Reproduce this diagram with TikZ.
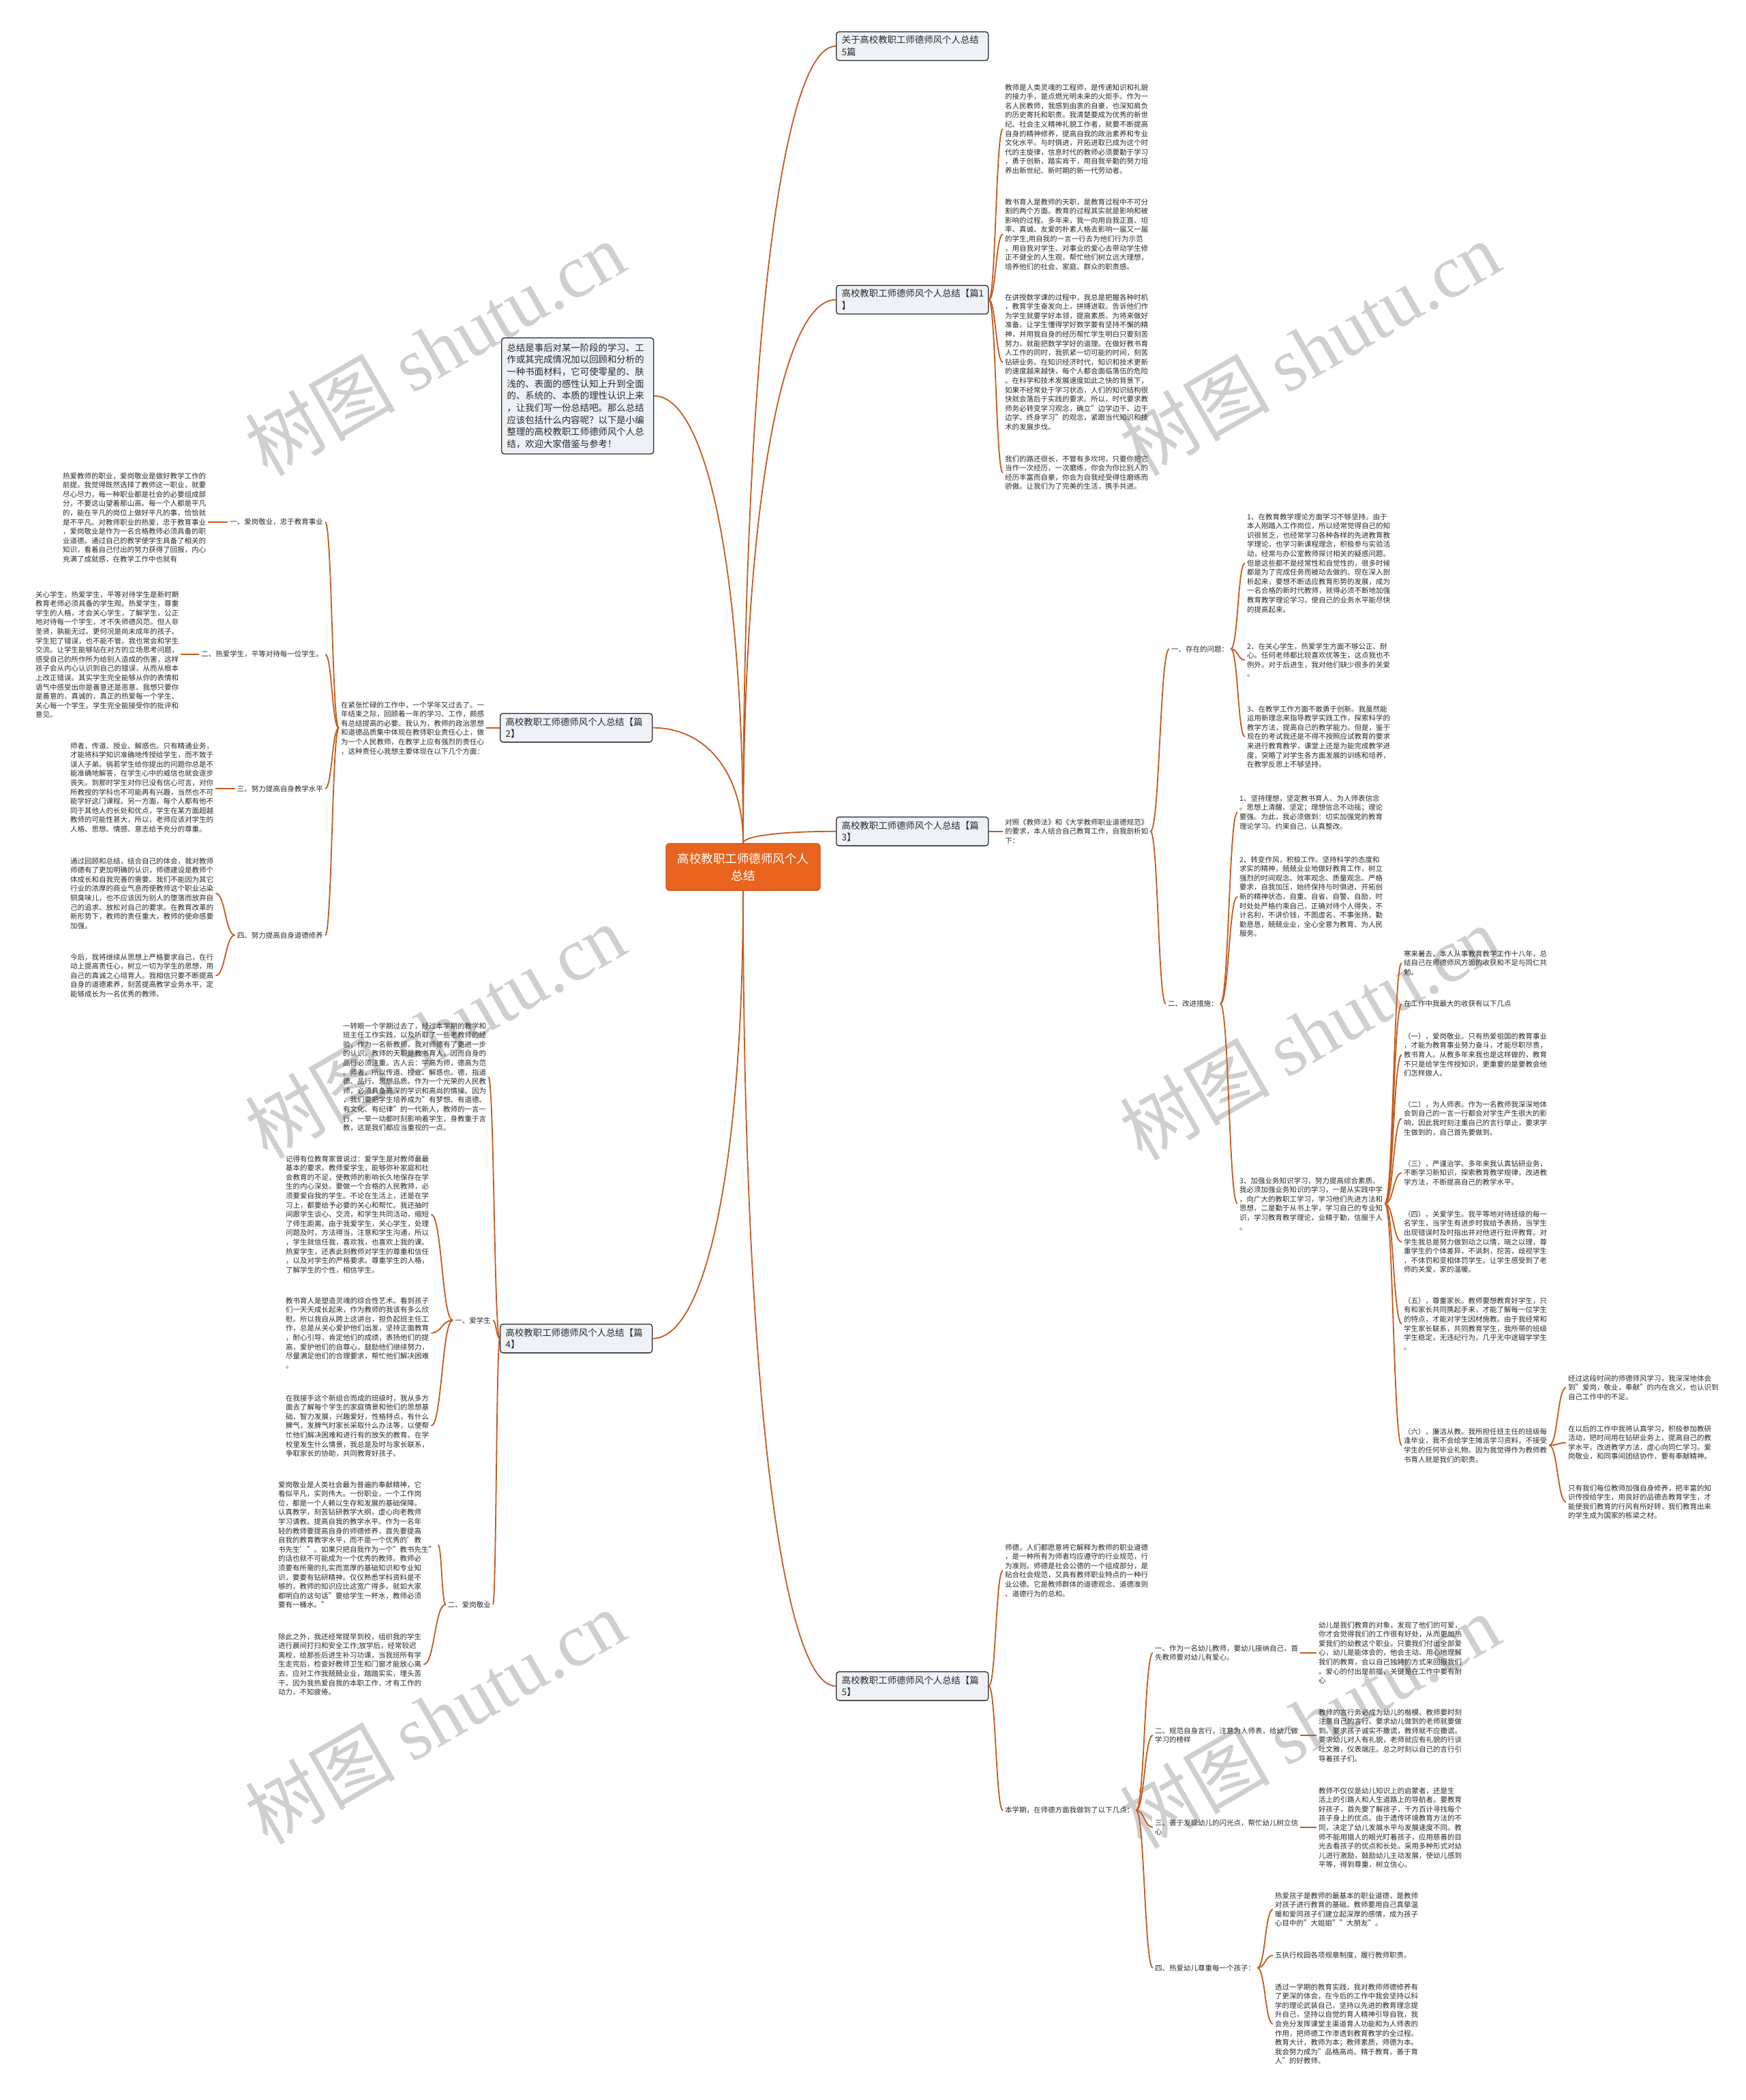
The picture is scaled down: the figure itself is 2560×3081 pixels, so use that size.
\documentclass[tikz,border=0pt]{standalone}
\usepackage{fontspec}
\setmainfont{Noto Sans CJK SC}
\newfontfamily\wmserif{Liberation Serif}
\usetikzlibrary{calc}
\definecolor{lineC}{HTML}{C55A1C}
\definecolor{cenF}{HTML}{E8641E}
\definecolor{cenD}{HTML}{C4521A}
\definecolor{boxF}{HTML}{EEF1F6}
\definecolor{boxD}{HTML}{2E2E2E}
\definecolor{textC}{HTML}{2A2A2A}
\newcommand{\sconn}[2]{\draw[conn] (#1) .. controls ($(#1)!0.5!(#1-|#2)$) and ($(#2)!0.5!(#2-|#1)$) .. (#2);}
\newcommand{\cconn}[2]{\draw[conn] (#1) .. controls ($(#1)!0.6!(#1|-#2)$) and ($(#2)!0.6!(#2-|#1)$) .. (#2);}
\tikzset{
  conn/.style={draw=lineC, line width=1.8pt},
  txt/.style={anchor=north west, align=left, inner xsep=3pt, inner ysep=1pt, font=\fontsize{10.5}{13.6}\selectfont, text=textC},
  lbl/.style={align=left, inner xsep=3pt, inner ysep=1pt, font=\fontsize{10.5}{13.6}\selectfont, text=textC},
  topic/.style={anchor=north west, draw=boxD, fill=boxF, line width=1.3pt, rounded corners=4pt, align=left, text width=207pt, inner xsep=8pt, inner ysep=6pt, font=\fontsize{13.4}{17.7}\selectfont, text=textC},
  cen/.style={fill=cenF, draw=cenD, line width=1.3pt, rounded corners=5pt, text=white, align=center, font=\fontsize{17.5}{25}\selectfont, minimum width=226pt, minimum height=69pt, inner sep=4pt},
  wm/.style={rotate=30, text=black!19, font=\fontsize{110}{110}\selectfont, inner sep=0pt}
}
\begin{document}
\begin{tikzpicture}[x=1pt,y=-1pt]
\fill[white] (0,0) rectangle (2560,3081);
\useasboundingbox (0,0) rectangle (2560,3081);
% watermarks
\node[wm] (w1) at (638,511) {树图 {\wmserif shutu.cn}};
\node[wm] (w2) at (1921,511) {树图 {\wmserif shutu.cn}};
\node[wm] (w3) at (638,1513) {树图 {\wmserif shutu.cn}};
\node[wm] (w4) at (1921,1515) {树图 {\wmserif shutu.cn}};
\node[wm] (w5) at (638,2519) {树图 {\wmserif shutu.cn}};
\node[wm] (w6) at (1921,2525) {树图 {\wmserif shutu.cn}};

% central and level-1
\node[cen] (cen) at (1090,1272) {高校教职工师德师风个人\\总结};
\node[topic] (T) at (1226,46) {关于高校教职工师德师风个人总结\\5篇};
\node[topic] (P1) at (1226,418) {高校教职工师德师风个人总结【篇1\\】};
\node[topic, inner ysep=8pt] (intro) at (735,495) {总结是事后对某一阶段的学习、工\\作或其完成情况加以回顾和分析的\\一种书面材料，它可使零星的、肤\\浅的、表面的感性认知上升到全面\\的、系统的、本质的理性认识上来\\，让我们写一份总结吧。那么总结\\应该包括什么内容呢？以下是小编\\整理的高校教职工师德师风个人总\\结，欢迎大家借鉴与参考！};
\node[topic] (P2) at (733,1046) {高校教职工师德师风个人总结【篇\\2】};
\node[topic] (P3) at (1226,1198) {高校教职工师德师风个人总结【篇\\3】};
\node[topic] (P4) at (733,1942) {高校教职工师德师风个人总结【篇\\4】};
\node[topic] (P5) at (1226,2452) {高校教职工师德师风个人总结【篇\\5】};

% section 1
\node[txt] (s11) at (1471,122) {教师是人类灵魂的工程师，是传递知识和礼貌\\的接力手，是点燃光明未来的火炬手。作为一\\名人民教师，我感到由衷的自豪，也深知肩负\\的历史寄托和职责。我清楚要成为优秀的新世\\纪、社会主义精神礼貌工作者，就要不断提高\\自身的精神修养，提高自我的政治素养和专业\\文化水平。与时俱进，开拓进取已成为这个时\\代的主旋律，信息时代的教师必须要勤于学习\\，勇于创新，踏实肯干，用自我辛勤的努力培\\养出新世纪、新时期的新一代劳动者。};
\node[txt] (s12) at (1471,290) {教书育人是教师的天职，是教育过程中不可分\\割的两个方面。教育的过程其实就是影响和被\\影响的过程。多年来，我一向用自我正直、坦\\率、真诚、友爱的朴素人格去影响一届又一届\\的学生;用自我的一言一行去为他们行为示范\\，用自我对学生、对事业的爱心去带动学生修\\正不健全的人生观，帮忙他们树立远大理想，\\培养他们的社会、家庭、群众的职责感。};
\node[txt] (s13) at (1471,430) {在讲授数学课的过程中，我总是把握各种时机\\，教育学生奋发向上，拼搏进取。告诉他们作\\为学生就要学好本领，提高素质，为将来做好\\准备。让学生懂得学好数学要有坚持不懈的精\\神，并用我自身的经历帮忙学生明白只要刻苦\\努力，就能把数学学好的道理。在做好教书育\\人工作的同时，我抓紧一切可能的时间，刻苦\\钻研业务。在知识经济时代，知识和技术更新\\的速度越来越快，每个人都会面临落伍的危险\\。在科学和技术发展速度如此之快的背景下，\\如果不经常处于学习状态，人们的知识结构很\\快就会落后于实践的要求。所以，时代要求教\\师务必转变学习观念，确立"边学边干、边干\\边学、终身学习"的观念，紧跟当代知识和技\\术的发展步伐。};
\node[txt] (s14) at (1471,667) {我们的路还很长，不管有多坎坷，只要你把它\\当作一次经历，一次磨练，你会为你比别人的\\经历丰富而自豪，你会为自我经受得住磨练而\\骄傲。让我们为了完美的生活，携手共进。};

% section 2
\node[txt] (s20) at (497,1028) {在紧张忙碌的工作中，一个学年又过去了。一\\年结束之际，回顾着一年的学习、工作，颇感\\有总结提高的必要。我认为，教师的政治思想\\和道德品质集中体现在教师职业责任心上，做\\为一个人民教师，在教学上应有强烈的责任心\\，这种责任心我想主要体现在以下几个方面：};
\node[lbl, anchor=east] (l21) at (477,766) {一、爱岗敬业，忠于教育事业};
\node[lbl, anchor=east] (l22) at (477,960) {二、热爱学生，平等对待每一位学生。};
\node[lbl, anchor=east] (l23) at (477,1157) {三、努力提高自身教学水平};
\node[lbl, anchor=east] (l24) at (477,1372) {四、努力提高自身道德修养};
\node[txt] (s21) at (89,692) {热爱教师的职业，爱岗敬业是做好教学工作的\\前提。我觉得既然选择了教师这一职业，就要\\尽心尽力，每一种职业都是社会的必要组成部\\分，不要这山望着那山高。每一个人都是平凡\\的，能在平凡的岗位上做好平凡的事，恰恰就\\是不平凡。对教师职业的热爱，忠于教育事业\\，爱岗敬业是作为一名合格教师必须具备的职\\业道德。通过自己的教学使学生具备了相关的\\知识，看着自己付出的努力获得了回报，内心\\充满了成就感，在教学工作中也就有};
\node[txt] (s22) at (49,866) {关心学生，热爱学生，平等对待学生是新时期\\教育老师必须具备的学生观。热爱学生，尊重\\学生的人格，才会关心学生，了解学生，公正\\地对待每一个学生，才不失师德风范。但人非\\圣贤，孰能无过。更何况是尚未成年的孩子。\\学生犯了错误，也不能不管。我也常会和学生\\交流。让学生能够站在对方的立场思考问题，\\感受自己的所作所为给别人造成的伤害，这样\\孩子会从内心认识到自己的错误，从而从根本\\上改正错误。其实学生完全能够从你的表情和\\语气中感受出你是善意还是恶意。我想只要你\\是善意的，真诚的，真正的热爱每一个学生、\\关心每一个学生。学生完全能接受你的批评和\\意见。};
\node[txt] (s23) at (100,1088) {师者，传道、授业、解惑也。只有精通业务，\\才能将科学知识准确地传授给学生，而不致于\\误人子弟。倘若学生给你提出的问题你总是不\\能准确地解答，在学生心中的威信也就会逐步\\丧失。到那时学生对你已没有信心可言，对你\\所教授的学科也不可能再有兴趣，当然也不可\\能学好这门课程。另一方面，每个人都有他不\\同于其他人的长处和优点，学生在某方面超越\\教师的可能性甚大，所以，老师应该对学生的\\人格、思想、情感、意志给予充分的尊重。};
\node[txt] (s24) at (100,1257) {通过回顾和总结，结合自己的体会，我对教师\\师德有了更加明确的认识，师德建设是教师个\\体成长和自我完善的需要。我们不能因为其它\\行业的浓厚的商业气息而使教师这个职业沾染\\铜臭味儿，也不应该因为别人的堕落而放弃自\\己的追求、放松对自己的要求。在教育改革的\\新形势下，教师的责任重大，教师的使命感要\\加强。};
\node[txt] (s25) at (100,1398) {今后，我将继续从思想上严格要求自己，在行\\动上提高责任心，树立一切为学生的思想，用\\自己的真诚之心培育人。我相信只要不断提高\\自身的道德素养，刻苦提高教学业务水平，定\\能够成长为一名优秀的教师。};

% section 3
\node[txt] (s30) at (1471,1200) {对照《教师法》和《大学教师职业道德规范》\\的要求，本人结合自己教育工作，自我剖析如\\下：};
\node[lbl, anchor=west] (l31) at (1715,952) {一、存在的问题：};
\node[lbl, anchor=west] (l32) at (1710,1473) {二、改进措施：};
\node[txt] (s311) at (1826,752) {1、在教育教学理论方面学习不够坚持。由于\\本人刚踏入工作岗位，所以经常觉得自己的知\\识很贫乏，也经常学习各种各样的先进教育教\\学理论，也学习新课程理念，积极参与实验活\\动，经常与办公室教师探讨相关的疑惑问题。\\但是这些都不是经常性和自觉性的，很多时候\\都是为了完成任务而被动去做的。现在深入剖\\析起来，要想不断适应教育形势的发展，成为\\一名合格的新时代教师，就得必须不断地加强\\教育教学理论学习，使自己的业务水平能尽快\\的提高起来。};
\node[txt] (s312) at (1826,942) {2、在关心学生，热爱学生方面不够公正、耐\\心。任何老师都比较喜欢优等生，这点我也不\\例外。对于后进生，我对他们缺少很多的关爱\\。};
\node[txt] (s313) at (1826,1034) {3、在教学工作方面不敢勇于创新。我虽然能\\运用新理念来指导教学实践工作，探索科学的\\教学方法，提高自己的教学能力。但是，鉴于\\现在的考试我还是不得不按照应试教育的要求\\来进行教育教学，课堂上还是为能完成教学进\\度，突略了对学生各方面发展的训练和培养，\\在教学反思上不够坚持。};
\node[txt] (s321) at (1815,1165) {1、坚持理想，坚定教书育人、为人师表信念\\。思想上清醒、坚定；理想信念不动摇；理论\\要强。为此，我必须做到：切实加强党的教育\\理论学习。约束自己，认真整改。};
\node[txt] (s322) at (1815,1255) {2、转变作风，积极工作。坚持科学的态度和\\求实的精神，兢兢业业地做好教育工作，树立\\强烈的时间观念、效率观念、质量观念。严格\\要求，自我加压，始终保持与时俱进、开拓创\\新的精神状态，自重、自省、自警、自励，时\\时处处严格约束自己，正确对待个人得失，不\\计名利，不讲价钱，不图虚名，不事张扬，勤\\勤恳恳，兢兢业业，全心全意为教育、为人民\\服务。};
\node[txt] (s323) at (1815,1726) {3、加强业务知识学习，努力提高综合素质。\\我必须加强业务知识的学习，一是从实践中学\\，向广大的教职工学习，学习他们先进方法和\\思想，二是勤于从书上学，学习自己的专业知\\识，学习教育教学理论，业精于勤，信服于人\\。};
\node[txt] (q1) at (2056,1393) {寒来暑去，本人从事教育教学工作十八年，总\\结自己在师德师风方面的收获和不足与同仁共\\勉。};
\node[lbl, anchor=west] (q2) at (2056,1473) {在工作中我最大的收获有以下几点};
\node[txt] (q3) at (2056,1514) {（一），爱岗敬业。只有热爱祖国的教育事业\\，才能为教育事业努力奋斗，才能尽职尽责，\\教书育人。从教多年来我也是这样做的，教育\\不只是给学生传授知识，更重要的是要教会他\\们怎样做人。};
\node[txt] (q4) at (2056,1614) {（二），为人师表。作为一名教师我深深地体\\会到自己的一言一行都会对学生产生很大的影\\响，因此我时刻注重自己的言行举止，要求学\\生做到的，自己首先要做到。};
\node[txt] (q5) at (2056,1701) {（三），严谨治学。多年来我认真钻研业务，\\不断学习新知识，探索教育教学规律，改进教\\学方法，不断提高自己的教学水平。};
\node[txt] (q6) at (2056,1775) {（四），关爱学生。我平等地对待班级的每一\\名学生，当学生有进步时我给予表扬，当学生\\出现错误时及时指出并对他进行批评教育。对\\学生我总是努力做到动之以情，晓之以理，尊\\重学生的个体差异，不讽刺，挖苦，歧视学生\\，不体罚和变相体罚学生。让学生感受到了老\\师的关爱，家的温暖。};
\node[txt] (q7) at (2056,1902) {（五），尊重家长。教师要想教育好学生，只\\有和家长共同携起手来，才能了解每一位学生\\的特点，才能对学生因材施教。由于我经常和\\学生家长联系，共同教育学生，我所带的班级\\学生稳定，无违纪行为，几乎无中途辍学学生\\。};
\node[txt] (q8) at (2056,2094) {（六），廉洁从教。我所担任班主任的班级每\\逢毕业，我不会给学生摊派学习资料，不接受\\学生的任何毕业礼物。因为我觉得作为教师教\\书育人就是我们的职责。};
\node[txt] (r1) at (2297,2016) {经过这段时间的师德师风学习，我深深地体会\\到"爱岗，敬业，奉献"的内在含义，也认识到\\自己工作中的不足。};
\node[txt] (r2) at (2297,2090) {在以后的工作中我将认真学习，积极参加教研\\活动，把时间用在钻研业务上，提高自己的教\\学水平。改进教学方法，虚心向同仁学习。爱\\岗敬业，和同事间团结协作，要有奉献精神。};
\node[txt] (r3) at (2297,2177) {只有我们每位教师加强自身修养，把丰富的知\\识传授给学生，用良好的品德去教育学生，才\\能使我们教育的行风有所好转，我们教育出来\\的学生成为国家的栋梁之材。};

% section 4
\node[txt] (s40) at (500,1499) {一转眼一个学期过去了，经过本学期的教学和\\班主任工作实践，以及听取了一些老教师的经\\验，作为一名新教师，我对师德有了更进一步\\的认识。教师的天职是教书育人，因而自身的\\品行必须注重。古人云：学高为师，德高为范\\。师者，所以传道、授业、解惑也。德，指道\\德、品行、思想品质。作为一个光荣的人民教\\师，必须具备高深的学识和高尚的情操。因为\\，我们要把学生培养成为"有梦想、有道德、\\有文化、有纪律"的一代新人，教师的一言一\\行、一举一动都时刻影响着学生，身教重于言\\教，这是我们都应当重视的一点。};
\node[lbl, anchor=east] (l41) at (723,1937) {一、爱学生};
\node[lbl, anchor=east] (l42) at (723,2354) {二、爱岗敬业};
\node[txt] (s411) at (416,1694) {记得有位教育家曾说过：爱学生是对教师最最\\基本的要求。教师爱学生，能够弥补家庭和社\\会教育的不足，使教师的影响长久地保存在学\\生的内心深处。要做一个合格的人民教师，必\\须要爱自我的学生。不论在生活上，还是在学\\习上，都要给予必要的关心和帮忙。我还抽时\\间跟学生谈心、交流，和学生共同活动，缩短\\了师生距离。由于我爱学生，关心学生，处理\\问题及时，方法得当，注意和学生沟通，所以\\，学生就信任我，喜欢我，也喜欢上我的课。\\热爱学生，还表此刻教师对学生的尊重和信任\\，以及对学生的严格要求。尊重学生的人格，\\了解学生的个性，相信学生。};
\node[txt] (s412) at (416,1902) {教书育人是塑造灵魂的综合性艺术。看到孩子\\们一天天成长起来，作为教师的我该有多么欣\\慰。所以我自从跨上这讲台，担负起班主任工\\作，总是从关心爱护他们出发，坚持正面教育\\，耐心引导，肯定他们的成绩，表扬他们的提\\高，爱护他们的自尊心，鼓励他们继续努力，\\尽量满足他们的合理要求，帮忙他们解决困难\\。};
\node[txt] (s413) at (416,2045) {在我接手这个新组合而成的班级时，我从多方\\面去了解每个学生的家庭情景和他们的思想基\\础，智力发展，兴趣爱好，性格特点，有什么\\脾气，发脾气时家长采取什么办法等，以便帮\\忙他们解决困难和进行有的放矢的教育。在学\\校里发生什么情景，我总是及时与家长联系，\\争取家长的协助，共同教育好孩子。};
\node[txt] (s421) at (405,2172) {爱岗敬业是人类社会最为普遍的奉献精神，它\\看似平凡，实则伟大。一份职业，一个工作岗\\位，都是一个人赖以生存和发展的基础保障。\\认真教学，刻苦钻研教学大纲，虚心向老教师\\学习请教。提高自我的教学水平。作为一名年\\轻的教师要提高自身的师德修养，首先要提高\\自我的教育教学水平，而不是一个优秀的'教\\书先生'"。如果只把自我作为一个"教书先生"\\的话也就不可能成为一个优秀的教师。教师必\\须要有所需的扎实而宽厚的基础知识和专业知\\识，要要有钻研精神。仅仅熟悉学科资料是不\\够的，教师的知识应比这宽广得多。就如大家\\都明白的这句话"要给学生一杯水，教师必须\\要有一桶水。"};
\node[txt] (s422) at (405,2395) {除此之外，我还经常提早到校，组织我的学生\\进行晨间打扫和安全工作;放学后，经常较迟\\离校，给那些后进生补习功课，当我班所有学\\生走完后，检查好教师卫生和门窗才能放心离\\去。应对工作我兢兢业业，踏踏实实，埋头苦\\干。因为我热爱自我的本职工作，才有工作的\\动力，不知疲倦。};

% section 5
\node[txt] (s50) at (1471,2264) {师德，人们都愿意将它解释为教师的职业道德\\，是一种所有为师者均应遵守的行业规范，行\\为准则。师德是社会公德的一个组成部分，是\\贴合社会规范，又具有教师职业特点的一种行\\业公德。它是教师群体的道德观念、道德准则\\、道德行为的总和。};
\node[lbl, anchor=west] (l51) at (1471,2656) {本学期，在师德方面我做到了以下几点：};
\node[txt] (i51) at (1691,2412) {一、作为一名幼儿教师，要幼儿接纳自己，首\\先教师要对幼儿有爱心。};
\node[txt] (i52) at (1691,2533) {二、规范自身言行，注意为人师表，给幼儿做\\学习的榜样};
\node[txt] (i53) at (1691,2668) {三、善于发现幼儿的闪光点，帮忙幼儿树立信\\心};
\node[lbl, anchor=west] (i54) at (1691,2887) {四、热爱幼儿尊重每一个孩子：};
\node[txt] (c51) at (1931,2378) {幼儿是我们教育的对象，发现了他们的可爱，\\你才会觉得我们的工作很有好处，从而更加热\\爱我们的幼教这个职业。只要我们付出全部爱\\心，幼儿是能体会的，他会主动、用心地理解\\我们的教育，会以自己独特的方式来回报我们\\。爱心的付出是前提，关键是在工作中要有耐\\心};
\node[txt] (c52) at (1931,2506) {教师的言行务必成为幼儿的楷模。教师要时刻\\注意自己的言行。要求幼儿做到的老师就要做\\到。要求孩子诚实不撒谎，教师就不应撒谎。\\要求幼儿对人有礼貌，老师就应有礼貌的行谈\\吐文雅，仪表端庄。总之时刻以自己的言行引\\导着孩子们。};
\node[txt] (c53) at (1931,2621) {教师不仅仅是幼儿知识上的启蒙者，还是生\\活上的引路人和人生道路上的导航者。要教育\\好孩子，首先要了解孩子，千方百计寻找每个\\孩子身上的优点。由于遗传环境教育方法的不\\同，决定了幼儿发展水平与发展速度不同。教\\师不能用猎人的眼光盯着孩子，应用慈善的目\\光去看孩子的优点和长处。采用多种形式对幼\\儿进行激励，鼓励幼儿主动发展，使幼儿感到\\平等，得到尊重，树立信心。};
\node[txt] (d1) at (1867,2775) {热爱孩子是教师的最基本的职业道德，是教师\\对孩子进行教育的基础。教师要用自己真挚温\\暖和爱同孩子们建立起深厚的感情，成为孩子\\心目中的"大姐姐""大朋友"。};
\node[lbl, anchor=west] (d2) at (1867,2869) {五执行校园各项规章制度，履行教师职责。};
\node[txt] (d3) at (1867,2909) {透过一学期的教育实践，我对教师师德修养有\\了更深的体会，在今后的工作中我会坚持以科\\学的理论武装自己，坚持以先进的教育理念提\\升自己，坚持以自觉的育人精神引导自我，我\\会充分发挥课堂主渠道育人功能和为人师表的\\作用，把师德工作渗透到教育教学的全过程。\\教育大计，教师为本；教师素质，师德为本。\\我会努力成为"品格高尚、精于教育、善于育\\人"的好教师。};

% ---- connectors ----
\cconn{cen.north}{T.west}
\cconn{cen.north}{P1.west}
\cconn{cen.north}{intro.east}
\cconn{cen.north}{P2.east}
\cconn{cen.north}{P3.west}
\cconn{cen.south}{P4.east}
\cconn{cen.south}{P5.west}
% section 1
\sconn{P1.east}{s11.west}
\sconn{P1.east}{s12.west}
\sconn{P1.east}{s13.west}
\sconn{P1.east}{s14.west}
% section 2
\draw[conn] (P2.west) -- (P2.west -| s20.east);
\sconn{s20.west}{l21.east}
\sconn{s20.west}{l22.east}
\sconn{s20.west}{l23.east}
\sconn{s20.west}{l24.east}
\draw[conn] (l21.west) -- (l21.west -| s21.east);
\draw[conn] (l22.west) -- (l22.west -| s22.east);
\draw[conn] (l23.west) -- (l23.west -| s23.east);
\sconn{l24.west}{s24.east}
\sconn{l24.west}{s25.east}
% section 3
\draw[conn] (P3.east) -- (P3.east -| s30.west);
\sconn{s30.east}{l31.west}
\sconn{s30.east}{l32.west}
\sconn{l31.east}{s311.west}
\sconn{l31.east}{s312.west}
\sconn{l31.east}{s313.west}
\sconn{l32.east}{s321.west}
\sconn{l32.east}{s322.west}
\sconn{l32.east}{s323.west}
\sconn{s323.east}{q1.west}
\sconn{s323.east}{q2.west}
\sconn{s323.east}{q3.west}
\sconn{s323.east}{q4.west}
\sconn{s323.east}{q5.west}
\sconn{s323.east}{q6.west}
\sconn{s323.east}{q7.west}
\sconn{s323.east}{q8.west}
\sconn{q8.east}{r1.west}
\sconn{q8.east}{r2.west}
\sconn{q8.east}{r3.west}
% section 4
\sconn{P4.west}{s40.east}
\sconn{P4.west}{l41.east}
\sconn{P4.west}{l42.east}
\sconn{l41.west}{s411.east}
\sconn{l41.west}{s412.east}
\sconn{l41.west}{s413.east}
\sconn{l42.west}{s421.east}
\sconn{l42.west}{s422.east}
% section 5
\sconn{P5.east}{s50.west}
\sconn{P5.east}{l51.west}
\sconn{l51.east}{i51.west}
\sconn{l51.east}{i52.west}
\sconn{l51.east}{i53.west}
\sconn{l51.east}{i54.west}
\draw[conn] (i51.east) -- (i51.east -| c51.west);
\draw[conn] (i52.east) -- (i52.east -| c52.west);
\draw[conn] (i53.east) -- (i53.east -| c53.west);
\sconn{i54.east}{d1.west}
\sconn{i54.east}{d2.west}
\sconn{i54.east}{d3.west}
\end{tikzpicture}
\end{document}
